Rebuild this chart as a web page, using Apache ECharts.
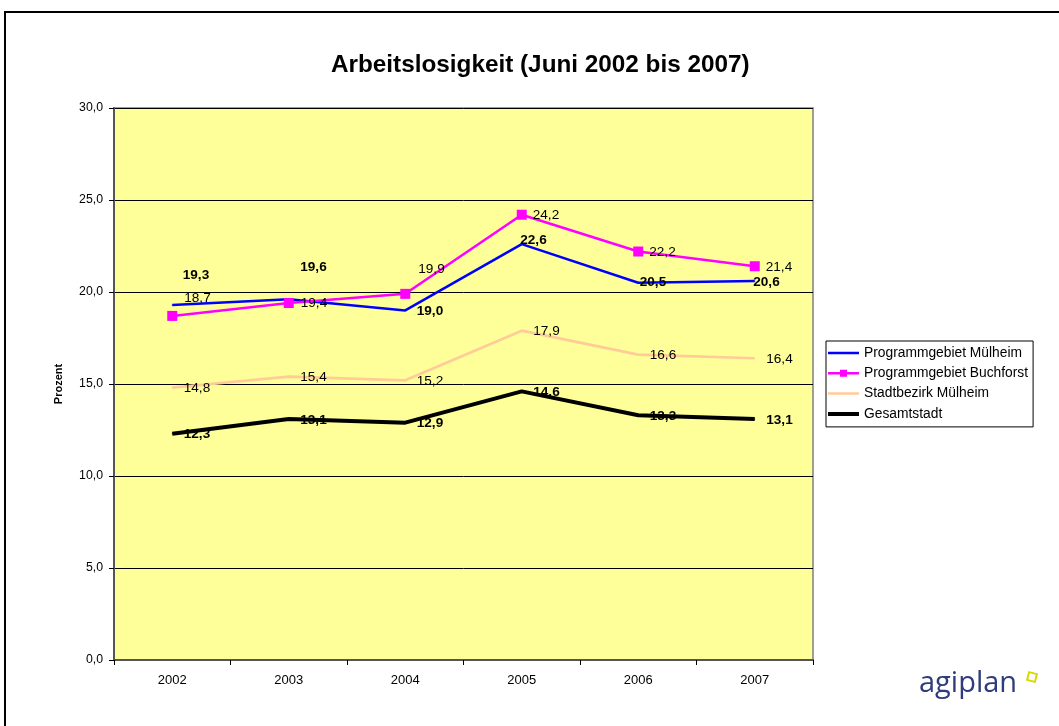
<!DOCTYPE html>
<html>
<head>
<meta charset="utf-8">
<script src="https://cdn.jsdelivr.net/npm/echarts@6/dist/echarts.min.js"></script>
<style>
html,body{margin:0;padding:0;background:#fff;}
#c{width:1059px;height:726px;}
</style>
</head>
<body>
<div id="c"></div>
<script>
const categories = ['2002', '2003', '2004', '2005', '2006', '2007'];
const seriesNames = ['Programmgebiet Mülheim', 'Programmgebiet Buchforst', 'Stadtbezirk Mülheim', 'Gesamtstadt'];
const muelheim = [19.3, 19.6, 19.0, 22.6, 20.5, 20.6];
const buchforst = [18.7, 19.4, 19.9, 24.2, 22.2, 21.4];
const stadtbezirk = [14.8, 15.4, 15.2, 17.9, 16.6, 16.4];
const gesamtstadt = [12.3, 13.1, 12.9, 14.6, 13.3, 13.1];
const yMin = 0, yMax = 30, yStep = 5;

// label nudges (styling only)
const muelheimLabelNudge = [[0, -30], [1, -32], [1, 1], [-12, -4], [-9, -1], [-12, 1]];
const buchforstLabelNudge = [[1, -18], [1, 0], [2, -25], [0, 1], [0, 1], [0, 1]];

const fmt = v => v.toFixed(1).replace('.', ',');
const FONT = 'Arial, "Liberation Sans", sans-serif';
const LBL = 13.6;

function withNudge(values, nudges) {
  return values.map((v, i) => ({ value: v, label: { offset: nudges ? nudges[i] : [0, 1] } }));
}

// legend icons (box 31x14 with corner anchors)
const anchors = 'M0,0h0.01v0.01h-0.01z M31,14h-0.01v-0.01h0.01z ';
const lineIcon = t => 'path://' + anchors + 'M0,' + (7 - t / 2) + 'h31v' + t + 'h-31z';
const markerIcon = 'path://' + anchors + 'M0,5.8h31v2.4h-31z M12,3.5h7v7h-7z';

const chart = echarts.init(document.getElementById('c'), null, { renderer: 'canvas' });
const option = {
  animation: false,
  backgroundColor: '#ffffff',
  textStyle: { fontFamily: FONT },
  title: {
    text: 'Arbeitslosigkeit (Juni 2002 bis 2007)',
    left: 331,
    top: 53,
    padding: 0,
    textStyle: { fontSize: 24.3, fontWeight: 'bold', color: '#000', fontFamily: FONT }
  },
  grid: {
    left: 114, right: 246, top: 108, bottom: 66,
    show: true,
    backgroundColor: '#FFFF99',
    borderColor: '#808080',
    borderWidth: 1.5
  },
  legend: {
    orient: 'vertical',
    left: 826,
    top: 341,
    padding: [5, 5, 6, 2],
    itemGap: 6.3,
    itemWidth: 31,
    itemHeight: 14,
    borderColor: '#000',
    borderWidth: 1,
    selectedMode: false,
    itemStyle: { borderWidth: 0 },
    textStyle: { fontSize: 13.8, color: '#000', fontFamily: FONT, lineHeight: 14, padding: [0, 0, 0, 0] },
    data: [
      { name: seriesNames[0], icon: lineIcon(2.5) },
      { name: seriesNames[1], icon: markerIcon },
      { name: seriesNames[2], icon: lineIcon(2.5) },
      { name: seriesNames[3], icon: lineIcon(4) }
    ]
  },
  xAxis: {
    type: 'category',
    data: categories,
    boundaryGap: true,
    axisLine: { lineStyle: { color: '#555', width: 2 } },
    axisTick: { show: true, inside: false, length: 5, alignWithLabel: false, lineStyle: { color: '#000' } },
    axisLabel: { fontSize: 13, color: '#000', margin: 14, fontFamily: FONT },
    splitLine: { show: false }
  },
  yAxis: {
    type: 'value',
    min: yMin, max: yMax, interval: yStep,
    name: 'Prozent',
    nameLocation: 'middle',
    nameGap: 50,
    nameTextStyle: { fontSize: 11, fontWeight: 'bold', color: '#000', fontFamily: FONT },
    axisLine: { show: true, lineStyle: { color: '#555', width: 2 } },
    axisTick: { show: true, inside: false, length: 5, lineStyle: { color: '#000' } },
    axisLabel: { fontSize: 12.3, color: '#000', margin: 11, formatter: fmt, fontFamily: FONT },
    splitLine: { show: true, lineStyle: { color: '#000', width: 1 } }
  },
  series: [
    {
      name: seriesNames[0], type: 'line',
      data: withNudge(muelheim, muelheimLabelNudge),
      symbol: 'circle', symbolSize: 1,
      itemStyle: { color: '#0000FF' },
      lineStyle: { color: '#0000FF', width: 2.5 },
      label: { show: true, position: 'right', distance: 10, formatter: p => fmt(p.value), fontSize: LBL, fontWeight: 'bold', color: '#000', fontFamily: FONT },
      z: 3
    },
    {
      name: seriesNames[1], type: 'line',
      data: withNudge(buchforst, buchforstLabelNudge),
      symbol: 'rect', symbolSize: 10,
      itemStyle: { color: '#FF00FF', borderWidth: 0 },
      lineStyle: { color: '#FF00FF', width: 2.5 },
      label: { show: true, position: 'right', distance: 6, formatter: p => fmt(p.value), fontSize: LBL, color: '#000', fontFamily: FONT },
      z: 4
    },
    {
      name: seriesNames[2], type: 'line',
      data: withNudge(stadtbezirk, null),
      symbol: 'circle', symbolSize: 1,
      itemStyle: { color: '#FFCC99' },
      lineStyle: { color: '#FFCC99', width: 2.7 },
      label: { show: true, position: 'right', distance: 11, formatter: p => fmt(p.value), fontSize: LBL, color: '#000', fontFamily: FONT },
      z: 2
    },
    {
      name: seriesNames[3], type: 'line',
      data: withNudge(gesamtstadt, null),
      symbol: 'circle', symbolSize: 1,
      itemStyle: { color: '#000000' },
      lineStyle: { color: '#000000', width: 4 },
      label: { show: true, position: 'right', distance: 11, formatter: p => fmt(p.value), fontSize: LBL, fontWeight: 'bold', color: '#000', fontFamily: FONT },
      z: 2
    }
  ],
  graphic: [
    { type: 'rect', shape: { x: 5, y: 12, width: 1200, height: 900 }, style: { fill: 'none', stroke: '#000', lineWidth: 2 }, silent: true },
    { type: 'text', left: 919, top: 669, style: { text: 'agiplan', font: '29px "Open Sans", sans-serif', fill: '#2E3B7C' }, silent: true },
    { type: 'rect', x: 1032, y: 677, rotation: -0.25, shape: { x: -4, y: -4, width: 8, height: 8 }, style: { fill: 'none', stroke: '#D8D800', lineWidth: 2 }, silent: true }
  ]
};
chart.setOption(option);
</script>
</body>
</html>
